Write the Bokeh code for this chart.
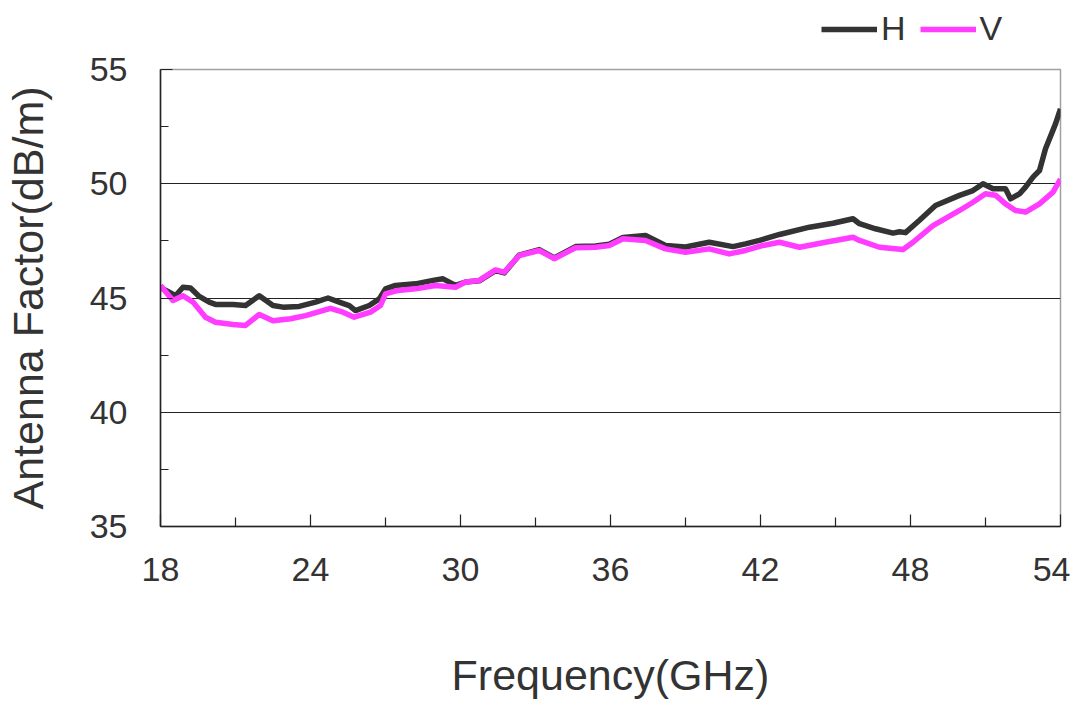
from bokeh.plotting import figure
from bokeh.models import Range1d, FixedTicker, Legend, LegendItem
from bokeh.layouts import column
from bokeh.embed import file_html
from bokeh.resources import INLINE

freq_h = [18.0, 18.35, 18.6, 18.9, 19.2, 19.55, 19.95, 20.2, 20.9, 21.4, 21.95, 22.5, 22.9,
          23.55, 24.2, 24.7, 25.15, 25.55, 25.8, 26.35, 26.75, 27.0, 27.4, 28.2, 28.9, 29.3,
          29.8, 30.2, 30.75, 31.4, 31.75, 32.35, 33.15, 33.75, 34.6, 35.4, 35.95, 36.5, 37.4,
          38.2, 39.0, 39.95, 40.9, 41.4, 41.96, 42.76, 43.96, 44.9, 45.7, 45.96, 46.6, 47.3,
          47.56, 47.8, 48.36, 49.0, 49.96, 50.5, 50.9, 51.3, 51.8, 52.0, 52.36, 52.6, 52.9,
          53.16, 53.4, 53.8, 54.0]
af_h = [45.45, 45.25, 45.1, 45.47, 45.44, 45.07, 44.82, 44.72, 44.72, 44.67, 45.1, 44.67, 44.6,
        44.63, 44.82, 45.0, 44.82, 44.67, 44.45, 44.67, 44.96, 45.4, 45.55, 45.62, 45.77, 45.84,
        45.55, 45.7, 45.75, 46.2, 46.1, 46.88, 47.12, 46.75, 47.25, 47.28, 47.35, 47.65, 47.74,
        47.3, 47.23, 47.44, 47.25, 47.37, 47.52, 47.78, 48.1, 48.27, 48.47, 48.25, 48.03, 47.84,
        47.9, 47.86, 48.4, 49.05, 49.49, 49.7, 50.0, 49.78, 49.78, 49.34, 49.56, 49.85, 50.29,
        50.58, 51.53, 52.62, 53.28]

freq_v = [18.0, 18.5, 18.9, 19.3, 19.8, 20.2, 20.9, 21.4, 21.95, 22.5, 23.2, 23.8, 24.8, 25.3,
          25.75, 26.4, 26.8, 27.0, 27.5, 28.2, 29.0, 29.8, 30.2, 30.75, 31.4, 31.75, 32.35, 33.15,
          33.75, 34.6, 35.4, 35.95, 36.5, 37.4, 38.2, 39.0, 39.95, 40.75, 41.4, 42.1, 42.76,
          43.56, 44.6, 45.7, 45.96, 46.76, 47.7, 48.1, 48.9, 49.96, 50.5, 51.0, 51.4, 51.8, 52.2,
          52.6, 53.16, 53.7, 54.0]
af_v = [45.55, 44.89, 45.1, 44.82, 44.16, 43.94, 43.84, 43.8, 44.28, 44.0, 44.09, 44.23, 44.55,
        44.38, 44.16, 44.38, 44.67, 45.18, 45.33, 45.4, 45.55, 45.47, 45.7, 45.77, 46.23, 46.13,
        46.86, 47.08, 46.72, 47.2, 47.22, 47.3, 47.59, 47.52, 47.15, 47.0, 47.15, 46.93, 47.08,
        47.3, 47.44, 47.22, 47.44, 47.66, 47.52, 47.22, 47.12, 47.44, 48.17, 48.83, 49.19, 49.56,
        49.5, 49.12, 48.83, 48.76, 49.12, 49.63, 50.2]

series_names = ["H", "V"]
x_ticks = [18, 24, 30, 36, 42, 48, 54]
x_minor = [21, 27, 33, 39, 45, 51]
y_ticks = [35, 40, 45, 50, 55]
y_minor = [37.5, 42.5, 47.5, 52.5]

FONT = "Liberation Sans"
TXT = "#333333"
COL_H = "#333333"
COL_V = "#FF3CFF"

# ---- legend strip above the chart ----
pl = figure(width=1070, height=50, output_backend="svg", toolbar_location=None,
            x_axis_type=None, y_axis_type=None, min_border=0,
            x_range=Range1d(0, 1), y_range=Range1d(0, 1))
pl.outline_line_color = None
pl.grid.visible = False
# legend-only renderers (kept outside the visible range)
lh = pl.line([0, 1], [-5, -5], line_color=COL_H, line_width=5.5)
lv = pl.line([0, 1], [-5, -5], line_color=COL_V, line_width=5.5)
legend = Legend(items=[LegendItem(label=series_names[0], renderers=[lh]),
                       LegendItem(label=series_names[1], renderers=[lv])],
                orientation="horizontal", location=(661, 2),
                glyph_width=56, glyph_height=30, label_standoff=4, spacing=14,
                padding=0, margin=0, border_line_color=None, background_fill_alpha=0,
                label_text_font=FONT, label_text_font_size="34px", label_text_color=TXT)
pl.add_layout(legend)

# ---- main chart ----
p = figure(width=1070, height=652, output_backend="svg", toolbar_location=None,
           x_range=Range1d(18, 54), y_range=Range1d(35, 55),
           min_border_left=160, min_border_right=10, min_border_top=19, min_border_bottom=176)
p.background_fill_color = "white"
p.border_fill_color = "white"
p.outline_line_color = "#a0a0a0"
p.outline_line_width = 1.5

p.xaxis.ticker = FixedTicker(ticks=x_ticks, minor_ticks=x_minor)
p.yaxis.ticker = FixedTicker(ticks=y_ticks, minor_ticks=y_minor)
p.xgrid.visible = False
p.ygrid.grid_line_color = "#222222"
p.ygrid.grid_line_width = 1

for ax in (p.xaxis[0], p.yaxis[0]):
    ax.axis_line_color = "#222222"
    ax.axis_line_width = 1.5
    ax.major_tick_line_color = "#222222"
    ax.minor_tick_line_color = "#222222"
    ax.major_tick_line_width = 1.2
    ax.minor_tick_line_width = 1.2
    ax.major_tick_out = 0
    ax.minor_tick_out = 0
    ax.major_label_text_font = FONT
    ax.major_label_text_font_size = "34px"
    ax.major_label_text_color = TXT
    ax.axis_label_text_font = FONT
    ax.axis_label_text_font_size = "43px"
    ax.axis_label_text_font_style = "normal"
    ax.axis_label_text_color = TXT

p.xaxis.major_tick_in = 12
p.xaxis.minor_tick_in = 9
p.yaxis.major_tick_in = 12
p.yaxis.minor_tick_in = 8
p.xaxis.major_label_standoff = 31
p.yaxis.major_label_standoff = 33
p.xaxis.axis_label = "Frequency(GHz)"
p.yaxis.axis_label = "Antenna Factor(dB/m)"
p.xaxis.axis_label_standoff = 67
p.yaxis.axis_label_standoff = 35

rh = p.line(freq_h, af_h, line_color=COL_H, line_width=5.5, line_join="round")
rv = p.line(freq_v, af_v, line_color=COL_V, line_width=5.5, line_join="round")

open("out.html", "w").write(file_html(column(pl, p, spacing=0), INLINE))
